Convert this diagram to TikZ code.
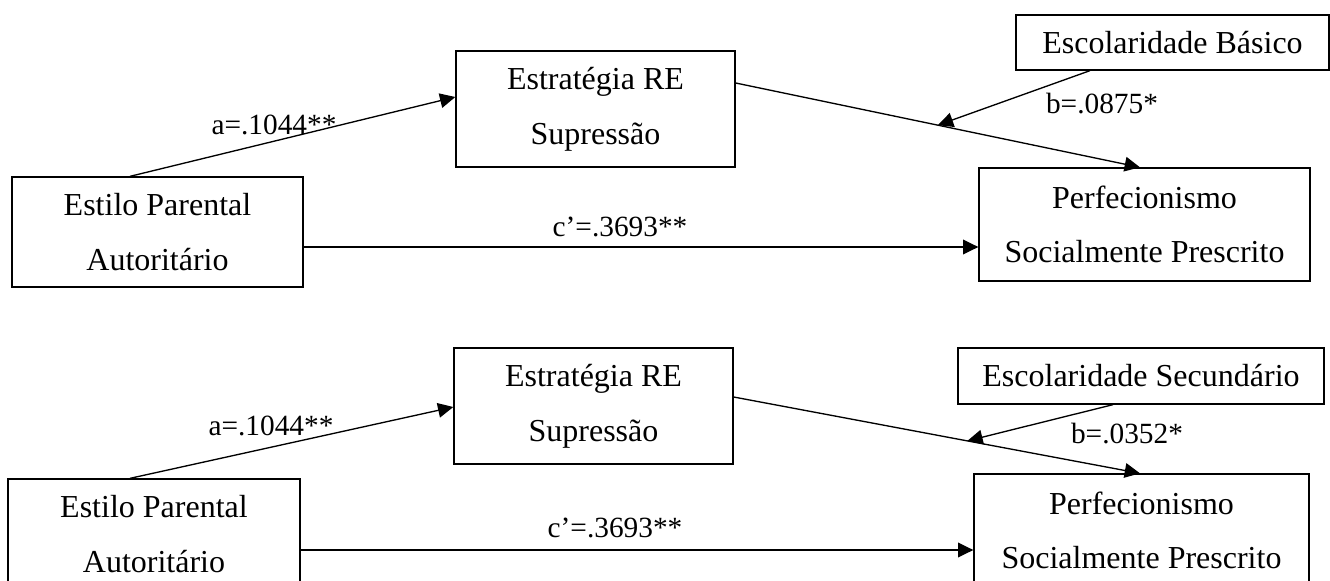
\documentclass[tikz,border=0pt]{standalone}
\usepackage{fontspec}
\setmainfont{Liberation Serif}
\usetikzlibrary{arrows.meta}

\begin{document}
\begin{tikzpicture}[->, >={Triangle[length=11.5pt,width=11pt]}, x=0.75pt, y=-0.75pt,
    line width=1pt,
    every node/.style={inner sep=0pt},
    box/.style={draw, align=center, font=\fontsize{24}{41}\selectfont},
    lowtext/.style={execute at begin node={\rule{0pt}{21pt}}},
    lbl/.style={font=\fontsize{22}{26}\selectfont}
    ]
\useasboundingbox (0,0) rectangle (1330,581);
\clip (0,0) rectangle (1330,581);

% upper model: Escolaridade Basico
\node[box, lowtext, minimum width=218.25pt, minimum height=82.5pt] (est1) at (157.5,232)  {Estilo Parental\\Autoritário};
\node[box, lowtext, minimum width=209.25pt, minimum height=87pt]   (rea1) at (595.5,109)  {Estratégia RE\\Supressão};
\node[box, minimum width=248.25pt, minimum height=84.75pt] (per1) at (1144.5,224.5) {Perfecionismo\\Socialmente Prescrito};
\node[box, minimum width=234.75pt, minimum height=41.25pt] (esc1) at (1172.5,42.5) {Escolaridade Básico};

\draw ([xshift=-20.6pt]est1.north) -- ([yshift=9pt]rea1.west);
\draw ([yshift=19.5pt]rea1.east) -- coordinate[pos=0.5] (mod1) ([xshift=-3.4pt]per1.north);
\draw ([xshift=-61.9pt]esc1.south) -- (mod1);
\draw ([yshift=-11.25pt]est1.east) coordinate (cs1) -- (cs1 -| per1.west);

\node[lbl] (a1) at (274,125)  {a=.1044**};
\node[lbl] (c1) at (620,227)  {c’=.3693**};
\node[lbl] (b1) at (1102,104) {b=.0875*};

% lower model: Escolaridade Secundario
\node[box, lowtext, minimum width=219pt, minimum height=82.5pt]   (est2) at (154,534)    {Estilo Parental\\Autoritário};
\node[box, lowtext, minimum width=209.25pt, minimum height=87pt]  (rea2) at (593.5,406)  {Estratégia RE\\Supressão};
\node[box, minimum width=251.25pt, minimum height=84.75pt] (per2) at (1141.5,530.5) {Perfecionismo\\Socialmente Prescrito};
\node[box, minimum width=274.5pt, minimum height=42pt]     (esc2) at (1141,376)   {Escolaridade Secundário};

\draw ([xshift=-18pt]est2.north) -- ([yshift=-0.75pt]rea2.west);
\draw ([yshift=6.75pt]rea2.east) -- coordinate[pos=0.575] (mod2) ([xshift=-1.1pt]per2.north);
\draw ([xshift=-21pt]esc2.south) -- (mod2);
\draw ([yshift=-12pt]est2.east) coordinate (cs2) -- (cs2 -| per2.west);

\node[lbl] (a2) at (271,426)  {a=.1044**};
\node[lbl] (c2) at (615,528)  {c’=.3693**};
\node[lbl] (b2) at (1127,434) {b=.0352*};
\end{tikzpicture}
\end{document}
